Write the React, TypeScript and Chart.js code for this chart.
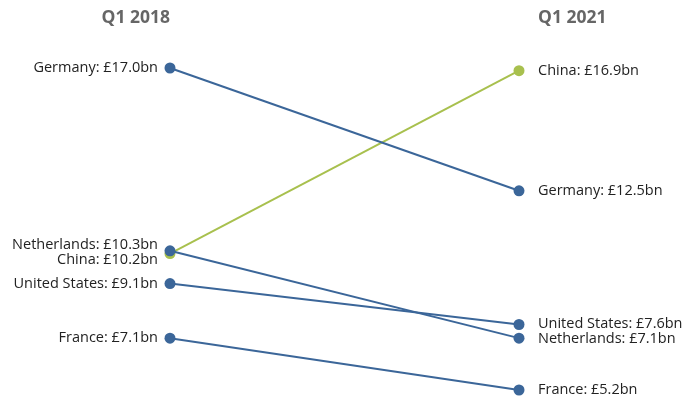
import React, { useEffect, useRef } from "react";
import { Chart, registerables } from "chart.js";

Chart.register(...registerables);

const periods = ["Q1 2018", "Q1 2021"];
const countries = ["Germany", "Netherlands", "United States", "France", "China"];
const valuesStart = [17.0, 10.3, 9.1, 7.1, 10.2];
const valuesEnd = [12.5, 7.1, 7.6, 5.2, 16.9];
const highlight = ["China"];

const BLUE = "#3b6699";
const GREEN = "#a8c04e";
const FONT = "'Open Sans', sans-serif";

function dodge(items: { y: number; i: number }[], gap: number) {
  const s = [...items].sort((a, b) => a.y - b.y);
  const out: Record<number, number> = {};
  const groups: { ys: number[]; idx: number[] }[] = [];
  for (const it of s) {
    const g = groups[groups.length - 1];
    if (g && it.y - g.ys[g.ys.length - 1] < gap) {
      g.ys.push(it.y);
      g.idx.push(it.i);
    } else groups.push({ ys: [it.y], idx: [it.i] });
  }
  for (const g of groups) {
    const c = g.ys.reduce((a, b) => a + b, 0) / g.ys.length;
    const n = g.ys.length;
    g.idx.forEach((id, k) => {
      out[id] = c + (k - (n - 1) / 2) * gap;
    });
  }
  return out;
}

const labelPlugin = {
  id: "slopeLabels",
  afterDatasetsDraw(chart: any) {
    const ctx = chart.ctx;
    const xs = chart.scales.x;
    const ys = chart.scales.y;
    ctx.save();
    ctx.font = `14.5px ${FONT}`;
    ctx.fillStyle = "#222";
    ctx.textBaseline = "middle";
    const left = dodge(valuesStart.map((v, i) => ({ y: ys.getPixelForValue(v), i })), 15);
    const right = dodge(valuesEnd.map((v, i) => ({ y: ys.getPixelForValue(v), i })), 15);
    const x0 = xs.getPixelForValue(0);
    const x1 = xs.getPixelForValue(1);
    countries.forEach((c, i) => {
      ctx.textAlign = "right";
      ctx.fillText(`${c}: £${valuesStart[i].toFixed(1)}bn`, x0 - 12, left[i]);
      ctx.textAlign = "left";
      ctx.fillText(`${c}: £${valuesEnd[i].toFixed(1)}bn`, x1 + 19, right[i]);
    });
    ctx.font = `bold 17.5px ${FONT}`;
    ctx.fillStyle = "#666";
    ctx.textAlign = "right";
    ctx.fillText(periods[0], x0, 18);
    ctx.textAlign = "left";
    ctx.fillText(periods[1], x1 + 19, 18);
    ctx.restore();
  },
};

export default function App() {
  const ref = useRef<HTMLCanvasElement>(null);
  useEffect(() => {
    document.body.style.margin = "0";
    const chart = new Chart(ref.current!, {
      type: "line",
      data: {
        datasets: countries.map((c, i) => {
          const col = highlight.includes(c) ? GREEN : BLUE;
          return {
            label: c,
            data: [
              { x: 0, y: valuesStart[i] },
              { x: 1, y: valuesEnd[i] },
            ],
            borderColor: col,
            backgroundColor: col,
            pointBackgroundColor: col,
            pointBorderColor: col,
            pointRadius: 5.5,
            pointBorderWidth: 0,
            borderWidth: 2,
            clip: false as any,
          };
        }),
      },
      options: {
        animation: false,
        responsive: false,
        maintainAspectRatio: false,
        layout: { padding: { left: 170, right: 163, top: 68, bottom: 13 } },
        plugins: { legend: { display: false }, tooltip: { enabled: false } },
        scales: {
          x: { type: "linear", min: 0, max: 1, display: false },
          y: { type: "linear", min: 5.2, max: 17.0, display: false },
        },
      },
      plugins: [labelPlugin],
    });
    return () => chart.destroy();
  }, []);
  return (
    <div style={{ width: 682, height: 403 }}>
      <canvas ref={ref} width={682} height={403} style={{ display: "block" }} />
    </div>
  );
}
